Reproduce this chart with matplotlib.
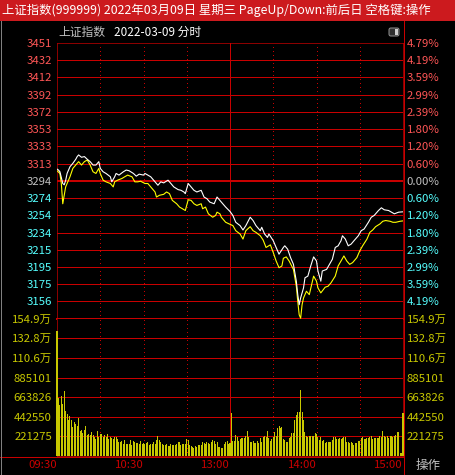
import matplotlib.pyplot as plt
from matplotlib.patches import Rectangle, FancyBboxPatch
from matplotlib.lines import Line2D

plt.rcParams['font.family'] = ['Noto Sans CJK SC', 'DejaVu Sans']

W, H = 455, 475
prev_close = 3293.53
band = 0.0479  # +-4.79% around previous close

title = '上证指数(999999) 2022年03月09日 星期三 PageUp/Down:前后日 空格键:操作'
price_labels = ['3451', '3432', '3412', '3392', '3372', '3353', '3333', '3313',
                '3294', '3274', '3254', '3234', '3215', '3195', '3175', '3156']
pct_labels = ['4.79%', '4.19%', '3.59%', '2.99%', '2.39%', '1.80%', '1.20%', '0.60%',
              '0.00%', '0.60%', '1.20%', '1.80%', '2.39%', '2.99%', '3.59%', '4.19%']
vol_labels = ['154.9万', '132.8万', '110.6万', '885101', '663826', '442550', '221275']
vol_step = 22.1275  # 万
time_ticks = [0, 60, 120, 180, 240]
time_labels = ['09:30', '10:30', '13:00', '14:00', '15:00']

# index line (white), minutes since 09:30
white_t = [0, 1, 2, 4, 5, 6, 7, 9, 11, 13, 14, 15, 17, 19, 21, 23, 25, 27, 29, 30,
           32, 34, 37, 38, 40, 41, 43, 46, 48, 50, 53, 55, 57, 60, 61, 63, 65, 68, 70, 72,
           74, 77, 79, 81, 84, 86, 88, 89, 91, 93, 95, 97, 100, 102, 104, 106, 109, 111, 112, 114,
           117, 120, 122, 124, 127, 129, 131, 134, 136, 138, 141, 142, 144, 146, 147, 150, 152, 154, 157, 158,
           160, 162, 164, 166, 167, 168, 169, 171, 172, 174, 176, 178, 180, 181, 183, 184, 187, 189, 191, 193,
           195, 197, 198, 200, 202, 204, 206, 209, 211, 213, 216, 218, 220, 223, 225, 227, 230, 232, 234, 237,
           240]
white_p = [3307.0, 3305.9, 3304.0, 3290.5, 3289.0, 3294.0, 3302.0, 3309.7, 3313.6, 3318.2,
           3321.3, 3323.2, 3320.5, 3321.3, 3318.2, 3315.5, 3311.6, 3311.6, 3315.5, 3307.8,
           3303.9, 3302.0, 3298.2, 3292.4, 3298.2, 3302.0, 3300.1, 3303.9, 3305.9, 3305.1,
           3302.0, 3298.9, 3301.2, 3300.1, 3302.0, 3300.1, 3298.2, 3292.4, 3288.5, 3292.4,
           3291.2, 3294.3, 3290.5, 3286.6, 3283.5, 3282.7, 3280.8, 3278.9, 3290.5, 3286.6,
           3282.7, 3280.8, 3282.7, 3275.0, 3273.1, 3269.2, 3267.3, 3275.0, 3273.1, 3269.2,
           3263.5, 3258.5, 3253.9, 3246.1, 3242.3, 3237.3, 3242.3, 3251.9, 3248.1, 3242.3,
           3236.5, 3240.4, 3232.7, 3228.8, 3232.7, 3225.0, 3217.3, 3209.6, 3217.3, 3219.2,
           3215.3, 3205.7, 3198.0, 3178.7, 3163.3, 3151.8, 3159.5, 3171.0, 3182.6, 3184.5,
           3196.1, 3206.5, 3201.8, 3190.3, 3178.7, 3190.3, 3192.2, 3198.0, 3203.8, 3217.3,
           3219.2, 3225.0, 3230.7, 3226.9, 3219.2, 3221.1, 3225.0, 3230.7, 3236.5, 3238.4,
           3246.1, 3251.9, 3253.9, 3259.6, 3262.7, 3260.4, 3259.6, 3257.7, 3255.8, 3257.7,
           3258.1]

# unweighted index line (yellow)
yellow_t = [0, 2, 3, 4, 6, 7, 9, 11, 14, 15, 17, 19, 21, 23, 25, 27, 29, 30, 32, 34,
            37, 39, 40, 42, 45, 47, 49, 52, 54, 56, 58, 61, 63, 65, 68, 69, 71, 74, 76, 78,
            80, 83, 85, 87, 89, 91, 93, 95, 97, 100, 101, 103, 105, 108, 110, 111, 113, 114, 117, 120,
            122, 124, 127, 129, 131, 134, 136, 138, 141, 143, 145, 148, 150, 152, 154, 156, 157, 159, 161, 164,
            166, 167, 168, 169, 170, 171, 173, 175, 178, 180, 181, 183, 186, 188, 190, 193, 195, 197, 199, 201,
            203, 205, 208, 210, 212, 215, 217, 219, 221, 224, 226, 228, 231, 233, 235, 238, 240]
yellow_p = [3305.1, 3302.0, 3290.5, 3267.3, 3286.6, 3290.5, 3298.2, 3307.8, 3313.6, 3315.5,
            3311.6, 3315.5, 3317.4, 3311.6, 3303.9, 3302.0, 3307.8, 3302.0, 3294.3, 3292.4,
            3290.5, 3286.6, 3292.4, 3294.3, 3296.2, 3298.2, 3300.1, 3298.2, 3292.4, 3292.4,
            3293.1, 3290.5, 3290.5, 3286.6, 3280.8, 3275.0, 3277.0, 3278.1, 3280.8, 3278.9,
            3271.2, 3267.3, 3263.5, 3261.6, 3259.6, 3271.9, 3271.2, 3267.3, 3265.4, 3267.3,
            3261.6, 3263.5, 3255.8, 3251.9, 3253.9, 3257.7, 3255.8, 3251.9, 3246.1, 3243.8,
            3242.3, 3236.5, 3232.7, 3226.9, 3236.5, 3241.1, 3236.5, 3234.6, 3230.7, 3225.7,
            3217.3, 3220.3, 3211.5, 3201.8, 3194.1, 3196.1, 3204.9, 3206.5, 3201.8, 3192.2,
            3172.9, 3155.6, 3140.2, 3136.3, 3151.8, 3159.5, 3167.2, 3163.3, 3184.5, 3178.7,
            3171.0, 3165.3, 3171.8, 3172.9, 3176.7, 3184.5, 3196.1, 3201.8, 3207.6, 3201.8,
            3198.0, 3199.9, 3205.7, 3213.4, 3219.2, 3226.9, 3234.6, 3237.3, 3241.1, 3244.2,
            3247.3, 3248.1, 3247.3, 3246.1, 3246.1, 3247.3, 3247.7]

# volume per minute, in 万
volume = [140.6, 65.5, 58.0, 67.7, 58.8, 73.6, 51.3, 47.6, 40.2, 44.6,
          40.2, 32.7, 38.3, 35.7, 33.5, 42.4, 28.3, 29.0, 26.0, 29.0,
          33.5, 23.4, 25.3, 23.4, 27.5, 23.4, 21.6, 19.7, 27.9, 21.6,
          25.3, 25.3, 21.6, 23.4, 21.6, 24.5, 19.7, 21.6, 20.8, 19.7,
          21.6, 21.6, 19.7, 16.0, 16.0, 17.1, 14.1, 17.9, 13.4, 14.1,
          13.4, 17.9, 12.6, 17.1, 16.0, 14.9, 14.9, 14.1, 17.1, 13.0,
          14.9, 13.4, 14.9, 16.0, 11.9, 14.1, 13.4, 15.6, 13.4, 18.6,
          22.3, 18.6, 16.0, 14.1, 12.3, 12.3, 14.1, 11.2, 11.2, 14.1,
          12.3, 12.6, 12.3, 14.1, 16.0, 16.0, 12.3, 14.1, 14.1, 14.1,
          19.7, 17.9, 12.3, 11.2, 10.4, 8.6, 11.2, 10.4, 12.3, 12.3,
          12.3, 15.6, 14.9, 14.1, 15.6, 14.9, 14.1, 16.0, 17.9, 17.1,
          13.4, 16.0, 10.4, 10.4, 8.9, 8.9, 14.1, 16.0, 16.4, 14.1,
          14.9,
          48.5, 17.2, 17.2, 23.5, 20.9, 17.2, 18.7, 19.8, 19.8, 20.1,
          22.4, 28.0, 21.6, 16.0, 15.7, 16.8, 14.9, 14.2, 16.8, 14.2,
          20.1, 15.7, 21.6, 22.4, 20.9, 28.7, 19.8, 16.8, 18.7, 21.6,
          26.9, 23.1, 32.1, 33.6, 32.1, 32.5, 19.4, 17.9, 16.0, 15.3,
          20.5, 21.6, 25.4, 26.1, 40.3, 45.9, 49.2, 49.2, 73.9, 49.2,
          40.3, 26.9, 22.4, 21.6, 22.4, 22.4, 22.4, 22.4, 25.4, 24.6,
          21.6, 17.9, 21.6, 16.8, 17.9, 14.9, 15.7, 15.7, 15.7, 15.7,
          17.9, 21.6, 21.6, 18.7, 19.4, 20.1, 19.4, 20.5, 21.6, 20.9,
          16.0, 15.7, 14.9, 15.3, 14.2, 12.7, 14.9, 14.2, 16.4, 17.2,
          19.8, 21.6, 19.0, 19.0, 20.5, 19.8, 20.9, 23.1, 19.0, 19.8,
          19.8, 19.8, 20.5, 22.4, 21.6, 28.0, 22.4, 20.9, 23.1, 19.8,
          23.1, 23.1, 21.6, 22.8, 23.5, 26.9, 26.9, 3.0, 3.0, 48.5]

RED = '#c80000'
UP = '#ff5656'
DOWN = '#56ffff'
FLAT = '#c0c0c0'
VOL = '#c8c800'
PX = 0.72  # one pixel in points
THIN = 0.5


def fx(px):
    return px / W


def fy(py):
    return 1 - py / H


fig = plt.figure(figsize=(W / 100, H / 100), dpi=100, facecolor='black')

# title bar
fig.add_artist(Rectangle((0, fy(21)), 1, 21 / H, transform=fig.transFigure,
                         color='#cc1a1e', lw=0))
fig.text(fx(2), fy(10.5), title, color='white', fontsize=8.9, va='center', ha='left')

# sub header
fig.text(fx(58), fy(32), '上证指数', color=FLAT, fontsize=8.5, va='center')
fig.text(fx(114), fy(32), '2022-03-09 分时', color='white', fontsize=8.5, va='center')
fig.add_artist(FancyBboxPatch((fx(389), fy(36)), 10 / W, 8 / H, transform=fig.transFigure,
                              boxstyle='round,pad=0,rounding_size=0.004',
                              fc='#303030', ec='#909090', lw=PX))
fig.add_artist(Rectangle((fx(395), fy(35)), 3 / W, 6 / H, transform=fig.transFigure,
                         color='#d0d0d0', lw=0))

# frame lines
for xs, ys, c in [([fx(403.5)] * 2, [fy(21), 0], RED),
                  ([0, fx(403.5)], [fy(456.5)] * 2, RED),
                  ([fx(0.5)] * 2, [fy(21), 0], '#808080'),
                  ([0, 1], [fy(474.5)] * 2, '#808080')]:
    fig.add_artist(Line2D(xs, ys, color=c, lw=THIN, antialiased=False))

fig.text(fx(428), fy(465), '操作', color=FLAT, fontsize=9, va='center', ha='center')

# price panel
ax_p = fig.add_axes([fx(57), fy(318.7), (403 - 57) / W, (318.7 - 43) / H])
ax_v = fig.add_axes([fx(57), fy(456), (403 - 57) / W, (456 - 318.7) / H])

step = band / 8
levels = [prev_close * (1 + k * step) for k in range(8, -9, -1)]
lab_colors = [UP] * 8 + [FLAT] + [DOWN] * 7

for ax in (ax_p, ax_v):
    ax.set_facecolor('black')
    ax.set_xlim(0, 240)
    for s in ax.spines.values():
        s.set_color(RED)
        s.set_linewidth(THIN)
    for t in (30, 60, 90, 150, 180, 210):
        ax.axvline(t, color=RED, lw=PX, ls=(0, (1, 3)), zorder=1, antialiased=False)
    ax.axvline(120, color=RED, lw=THIN, zorder=1, antialiased=False)

ax_p.set_ylim(levels[-1], levels[0])
ax_p.spines['bottom'].set_linewidth(2 * PX)
for k, lv in enumerate(levels[1:-1], start=1):
    ax_p.axhline(lv, color=RED, lw=2 * PX if k == 8 else THIN, zorder=1, antialiased=False)
ax_p.set_xticks([])
ax_p.set_yticks(levels[:16], price_labels)
ax_p.tick_params(axis='y', length=0, pad=3.6, labelsize=8.2)
for lab, c in zip(ax_p.get_yticklabels(), lab_colors):
    lab.set_color(c)

ax_pr = ax_p.twinx()
ax_pr.set_ylim(levels[-1], levels[0])
ax_pr.set_yticks(levels[:16], pct_labels)
ax_pr.tick_params(axis='y', length=0, pad=2.6, labelsize=8.2)
for lab, c in zip(ax_pr.get_yticklabels(), lab_colors):
    lab.set_color(c)
for s in ax_pr.spines.values():
    s.set_visible(False)

ax_p.plot(white_t, white_p, color='white', lw=0.8, zorder=4)
ax_p.plot(yellow_t, yellow_p, color='#ffff00', lw=0.8, zorder=3)

# volume panel
ax_v.spines['top'].set_visible(False)
ax_v.set_ylim(0, 7 * vol_step)
for k in range(1, 7):
    ax_v.axhline(k * vol_step, color=RED, lw=THIN, zorder=1, antialiased=False)
bars = ax_v.bar(range(len(volume)), volume, width=0.7, color=VOL, lw=0, zorder=3,
                antialiased=False)
for b in bars:
    b.set_clip_on(False)
vticks = [k * vol_step for k in range(7, 0, -1)]
ax_v.set_yticks(vticks, vol_labels)
ax_v.tick_params(axis='y', length=0, pad=3.6, labelsize=8.2, labelcolor=VOL)
ax_v.set_xticks(time_ticks, time_labels)
ax_v.tick_params(axis='x', length=0, pad=3, labelsize=8.2, labelcolor=RED)
for lab in ax_v.get_xticklabels():
    lab.set_ha('right')

ax_vr = ax_v.twinx()
ax_vr.set_ylim(0, 7 * vol_step)
ax_vr.set_yticks(vticks, vol_labels)
ax_vr.tick_params(axis='y', length=0, pad=2.6, labelsize=8.2, labelcolor=VOL)
for s in ax_vr.spines.values():
    s.set_visible(False)

fig.savefig('out.png', dpi=100, facecolor='black')
